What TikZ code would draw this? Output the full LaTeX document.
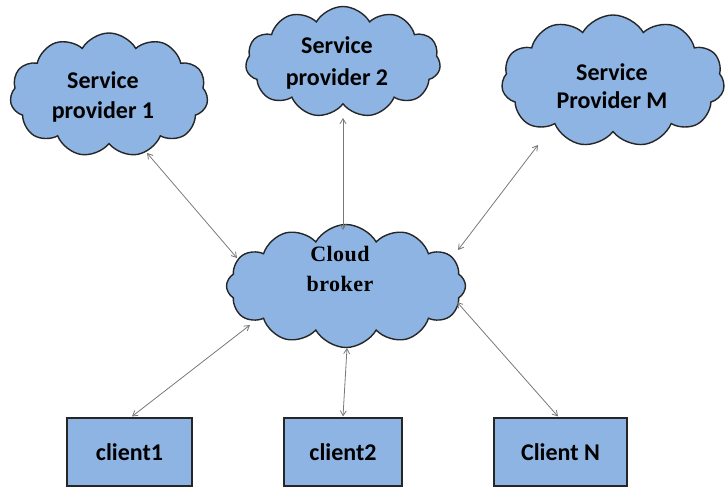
\documentclass[tikz,border=0pt]{standalone}
\usepackage{fontspec}
\setmainfont{Carlito}
\newfontfamily\brokerfont[LetterSpace=2]{Liberation Serif}
\usetikzlibrary{shapes.symbols,arrows.meta,calc}
\definecolor{cfill}{RGB}{141,180,226}
\definecolor{arr}{RGB}{120,120,120}
\tikzset{
  cloudnode/.style={cloud, cloud puffs=11, cloud puff arc=120, cloud ignores aspect,
    draw=black!85, line width=1.4pt, fill=cfill, inner sep=0pt},
  cloudtext/.style={align=center, inner sep=0pt,
    font=\bfseries\fontsize{24}{30}\selectfont},
  clientbox/.style={rectangle, draw=black!85, line width=1.1pt, fill=cfill,
    minimum height=68pt, inner sep=0pt, font=\bfseries\fontsize{24}{28}\selectfont},
  link/.style={draw=arr, line width=0.8pt, {Straight Barb[length=5pt,width=6pt]}-{Straight Barb[length=5pt,width=6pt]}}
}
\begin{document}
\begin{tikzpicture}[x=1pt,y=-1pt]
\useasboundingbox (0,0) rectangle (726,487);
% clouds
\node[cloudnode, minimum width=198pt, minimum height=124pt] (sp1) at (109,95) {};
\node[cloudnode, minimum width=195pt, minimum height=111pt] (sp2) at (343,62) {};
\node[cloudnode, minimum width=223pt, minimum height=132pt] (spm) at (613,81) {};
\node[cloudnode, cloud puffs=12, minimum width=239pt, minimum height=123pt] (broker) at (346,286) {};
% cloud texts
\node[cloudtext] (sp1t) at (103,97) {Service\\provider 1};
\node[cloudtext, font=\bfseries\fontsize{24}{32}\selectfont] (sp2t) at (337,63) {Service\\provider 2};
\node[cloudtext, font=\bfseries\fontsize{24}{28}\selectfont] (spmt) at (612,86) {Service\\Provider M};
\node[cloudtext, font=\brokerfont\bfseries\fontsize{22}{30}\selectfont] (brokert) at (340,269) {Cloud\\broker};
% clients
\node[clientbox, minimum width=125pt] (c1) at (129.5,452) {client1};
\node[clientbox, minimum width=118pt] (c2) at (343,452) {client2};
\node[clientbox, minimum width=133pt] (cn) at (560.5,452) {Client N};
% links
\draw[link] ($(sp1)+(38,58)$) -- ($(broker)+(-109,-28)$);
\draw[link] ($(sp2)+(0,56)$) -- ($(broker)+(-3,-56)$);
\draw[link] ($(spm)+(-75,64)$) -- ($(broker)+(112,-36)$);
\draw[link] ($(broker)+(-96,39)$) -- ($(c1.north)+(2.5,-1)$);
\draw[link] ($(broker)+(1,62)$) -- ($(c2.north)+(0,-1)$);
\draw[link] ($(broker)+(111,16)$) -- ($(cn.north)+(-2.5,-1)$);
\end{tikzpicture}
\end{document}
